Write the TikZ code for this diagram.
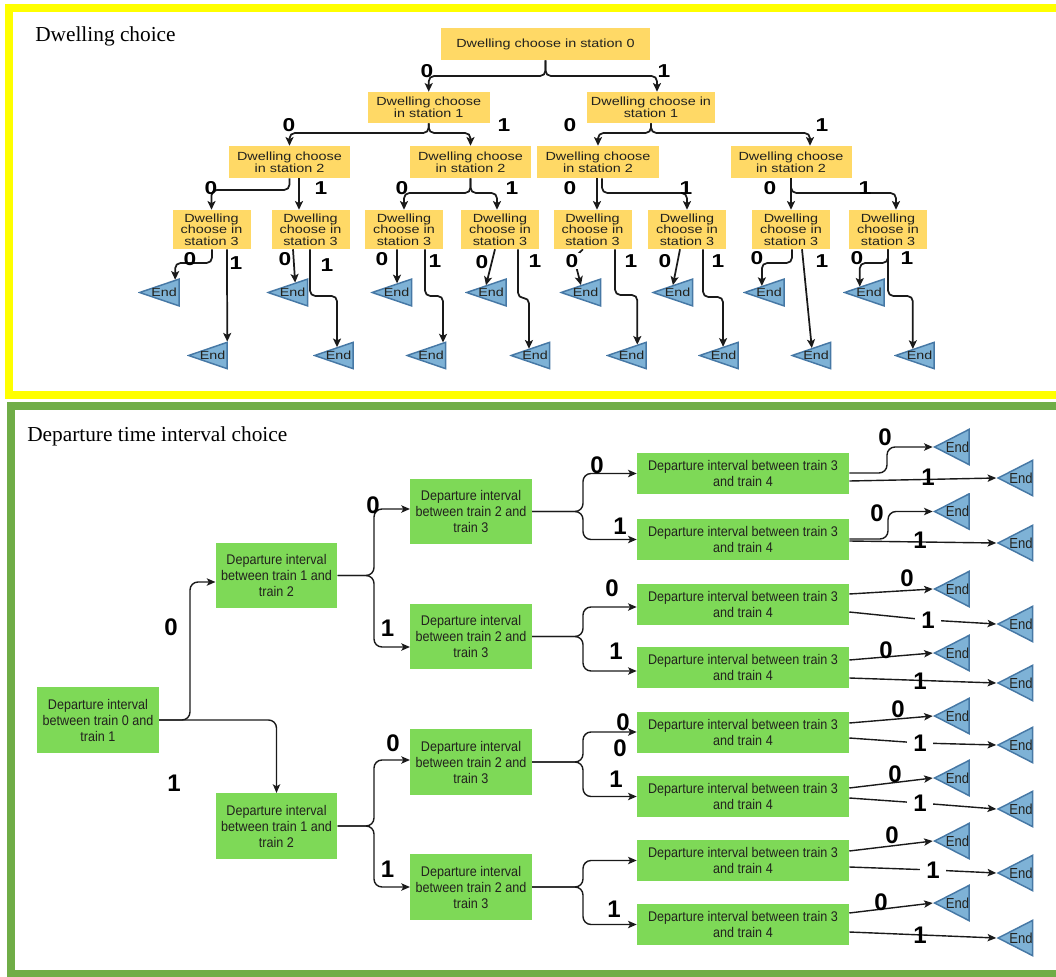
\documentclass[tikz,border=0pt]{standalone}
\usepackage{fontspec}
\setmainfont{Liberation Serif}
\newfontfamily\topsf[FakeStretch=1.22]{Liberation Sans}
\newfontfamily\botsf[FakeStretch=0.9]{Liberation Sans}
\newfontfamily\lblsf{Liberation Sans}
\usetikzlibrary{arrows.meta,calc}
\pgfdeclarelayer{edges}
\pgfsetlayers{edges,main}
\newdimen\pxu \pxu=0.75pt

\definecolor{frameyellow}{RGB}{255,255,0}
\definecolor{framegreen}{RGB}{112,173,71}
\definecolor{dwellfill}{RGB}{255,217,102}
\definecolor{depfill}{RGB}{126,217,87}
\definecolor{endfill}{RGB}{126,178,214}
\definecolor{endline}{RGB}{70,120,165}
\definecolor{inktext}{RGB}{34,34,30}
\definecolor{wire}{RGB}{26,26,26}

\tikzset{
  dwell/.style={rectangle, fill=dwellfill, inner sep=0pt, align=center, text=inktext,
    font=\topsf\fontsize{8.85pt}{8.7pt}\selectfont},
  dwellsm/.style={dwell, minimum width=78\pxu, minimum height=39\pxu,
    font=\topsf\fontsize{8.85pt}{8.5pt}\selectfont},
  dep/.style={rectangle, fill=depfill, inner sep=0pt, align=center, text=inktext,
    font=\botsf\fontsize{10.5pt}{12pt}\selectfont},
  depmid/.style={dep, minimum width=121.5\pxu, minimum height=65.5\pxu},
  deplong/.style={dep, minimum width=212\pxu, minimum height=41\pxu},
  endtri/.style={rectangle, inner sep=0pt, text=inktext,
    path picture={\path[fill=endfill, draw=endline, line width=1.1pt, line join=miter]
      ([xshift=1.2pt]path picture bounding box.west) --
      ([xshift=-0.6pt,yshift=-0.6pt]path picture bounding box.north east) --
      ([xshift=-0.6pt,yshift=0.6pt]path picture bounding box.south east) -- cycle;}},
  endtop/.style={endtri, minimum width=42\pxu, minimum height=28.5\pxu,
    font=\topsf\fontsize{8.8pt}{9pt}\selectfont},
  endbot/.style={endtri, minimum width=37\pxu, minimum height=37\pxu,
    font=\botsf\fontsize{10.9pt}{12pt}\selectfont},
  toplbl/.style={inner sep=0pt, text=black, font=\topsf\bfseries\fontsize{14pt}{14pt}\selectfont},
  botlbl/.style={inner sep=0pt, text=black, font=\lblsf\bfseries\fontsize{18pt}{18pt}\selectfont},
  gap/.style={fill=white, inner xsep=6\pxu, inner ysep=1pt},
  topwire/.style={draw=wire, line width=1.3pt, rounded corners=4pt,
    -{Stealth[length=6.5pt,width=6pt,inset=1.5pt]}},
  botwire/.style={draw=wire, line width=1.05pt, rounded corners=6pt,
    -{Stealth[length=6.5pt,width=5.5pt,inset=1.5pt]}},
  heading/.style={inner sep=0pt, anchor=base west, font=\fontsize{16pt}{18pt}\selectfont},
}

\begin{document}
\begin{tikzpicture}[x=0.75pt, y=-0.75pt]
\useasboundingbox (0,0) rectangle (1056,977);

% frames of the two panels (their right sides run past the page edge)
\draw[frameyellow, line width=8\pxu] (1075,8) -- (9,8) -- (9,395) -- (1075,395);
\draw[framegreen, line width=8\pxu] (1075,405.5) -- (11,405.5) -- (11,973.5) -- (1075,973.5);

\node[heading] (ttlA) at (35,42) {Dwelling choice};
\node[heading] (ttlB) at (27,441) {Departure time interval choice};

% ---------------- dwelling tree ----------------
\node[dwell, minimum width=209\pxu, minimum height=32\pxu] (d0) at (545.5,44) {Dwelling choose in station 0};
\node[dwell, minimum width=122\pxu, minimum height=31\pxu] (d1a) at (428.7,107.5) {Dwelling choose\\in station 1};
\node[dwell, minimum width=128\pxu, minimum height=31\pxu] (d1b) at (651,107.5) {Dwelling choose in\\station 1};
\node[dwell, minimum width=121\pxu, minimum height=32\pxu] (d2a) at (289.5,162) {Dwelling choose\\in station 2};
\node[dwell, minimum width=121\pxu, minimum height=32\pxu] (d2b) at (470.5,162) {Dwelling choose\\in station 2};
\node[dwell, minimum width=122\pxu, minimum height=32\pxu] (d2c) at (598,162) {Dwelling choose\\in station 2};
\node[dwell, minimum width=121\pxu, minimum height=32\pxu] (d2d) at (791,162) {Dwelling choose\\in station 2};

\foreach \n/\x in {1/211.5, 2/310.5, 3/404, 4/500, 5/592.5, 6/687, 7/791, 8/888}
  \node[dwellsm] (t3\n) at (\x,229.5) {Dwelling\\choose in\\station 3};

\foreach \n/\x in {1/159, 2/287.5, 3/391.5, 4/486, 5/580.5, 6/672.5, 7/764, 8/864}
  \node[endtop] (e0\n) at (\x,292.5) {\hspace*{10\pxu}End};
\foreach \n/\x in {1/207.5, 2/333.5, 3/426, 4/530, 5/626.5, 6/718.5, 7/811, 8/914.5}
  \node[endtop, minimum width=41\pxu, minimum height=28\pxu] (e1\n) at (\x,355.5) {\hspace*{10\pxu}End};

% branch labels of the dwelling tree
\node[toplbl] (ta0) at (427,71) {0};
\node[toplbl] (ta1) at (664,71) {1};
\node[toplbl] (tb0) at (289,125) {0};
\node[toplbl] (tb1) at (504,125) {1};
\node[toplbl] (tb2) at (570,125) {0};
\node[toplbl] (tb3) at (822,125) {1};
\foreach \n/\x/\t in {1/211/0, 2/321/1, 3/402/0, 4/512/1, 5/570/0, 6/686/1, 7/770/0, 8/865/1}
  \node[toplbl] (tc\n) at (\x,188) {\t};
\node[toplbl] (td10) at (190,259) {0};
\node[toplbl] (td11) at (236,263) {1};
\node[toplbl] (td20) at (285,259) {0};
\node[toplbl] (td21) at (327,265) {1};
\node[toplbl] (td30) at (382,259) {0};
\node[toplbl] (td31) at (435,261) {1};
\node[toplbl] (td40) at (482,262) {0};
\node[toplbl] (td41) at (535,261) {1};
\node[toplbl, gap, inner xsep=1pt] (td50) at (572,261) {0};
\node[toplbl] (td51) at (631,261) {1};
\node[toplbl] (td60) at (665,261) {0};
\node[toplbl] (td61) at (718,261) {1};
\node[toplbl] (td70) at (757,258) {0};
\node[toplbl] (td71) at (822,261) {1};
\node[toplbl] (td80) at (857,258) {0};
\node[toplbl] (td81) at (907,258) {1};

% ---------------- departure interval tree ----------------
\node[depmid] (r0) at (98,720) {Departure interval\\between train 0 and\\train 1};
\node[depmid] (r1a) at (276.5,575.5) {Departure interval\\between train 1 and\\train 2};
\node[depmid] (r1b) at (276.5,826) {Departure interval\\between train 1 and\\train 2};
\foreach \n/\y in {a/511.5, b/636.5, c/762, d/887}
  \node[depmid] (r2\n) at (471,\y) {Departure interval\\between train 2 and\\train 3};
\foreach \n/\y in {a/473.5, b/539.5, c/604.5, d/667.5, e/732, f/796.5, g/860.5, h/924.5}
  \node[deplong] (r3\n) at (743,\y) {Departure interval between train 3\\and train 4};
\foreach \n/\y in {1/447, 2/511.5, 3/589, 4/653, 5/716, 6/778, 7/841, 8/903}
  \node[endbot] (ea\n) at (951.5,\y) {\hspace*{12\pxu}End};
\foreach \n/\y in {1/478, 2/543, 3/624, 4/683, 5/745, 6/809, 7/873, 8/938}
  \node[endbot] (eb\n) at (1015,\y) {\hspace*{12\pxu}End};

% branch labels of the departure tree
\node[botlbl] (ba0) at (171,627) {0};
\node[botlbl] (ba1) at (174,783) {1};
\node[botlbl] (bb0) at (373,505) {0};
\node[botlbl] (bb1) at (387.5,628) {1};
\node[botlbl] (bb2) at (393,743) {0};
\node[botlbl] (bb3) at (387.5,869) {1};
\node[botlbl] (bc0) at (597,465) {0};
\node[botlbl] (bc1) at (620,526) {1};
\node[botlbl] (bc2) at (612,588) {0};
\node[botlbl] (bc3) at (616,651) {1};
\node[botlbl] (bc4) at (623,722) {0};
\node[botlbl] (bc5) at (620,748) {0};
\node[botlbl] (bc6) at (616,779) {1};
\node[botlbl] (bc7) at (614,909) {1};
\node[botlbl] (bd10) at (885,437) {0};
\node[botlbl] (bd11) at (928,477) {1};
\node[botlbl] (bd20) at (877,513) {0};
\node[botlbl] (bd21) at (920,540) {1};
\node[botlbl] (bd30) at (907,578) {0};
\node[botlbl, gap] (bd31) at (928,620) {1};
\node[botlbl] (bd40) at (886,650) {0};
\node[botlbl] (bd41) at (920,681) {1};
\node[botlbl] (bd50) at (898,709) {0};
\node[botlbl, gap] (bd51) at (920,743) {1};
\node[botlbl] (bd60) at (895,774) {0};
\node[botlbl, gap] (bd61) at (920,803) {1};
\node[botlbl] (bd70) at (892,835) {0};
\node[botlbl, gap] (bd71) at (933,870) {1};
\node[botlbl] (bd80) at (881,902) {0};
\node[botlbl] (bd81) at (920,935) {1};

% ---------------- connectors ----------------
\begin{pgfonlayer}{edges}
% dwelling tree, levels 0 to 2
\draw[topwire] (d0.south) -- (d0.south |- 0,76) -| (d1a.north);
\draw[topwire] (d0.south) -- (d0.south |- 0,76) -| (657,0 |- d1b.north);
\draw[topwire] (d1a.south) -- (d1a.south |- 0,133) -| (d2a.north);
\draw[topwire] (d1a.south) -- (d1a.south |- 0,133) -| (d2b.north);
\draw[topwire] (d1b.south) -- (d1b.south |- 0,133) -| (d2c.north);
\draw[topwire] (d1b.south) -- (d1b.south |- 0,133) -| (810,0 |- d2d.north);
% level 2 to 3
\draw[topwire] (d2a.south) -- (289.5,190) -| (t31.north);
\draw[topwire] (299,0 |- d2a.south) -- (299,0 |- t32.north);
\draw[topwire] (d2b.south) -- (470.5,193) -| (t33.north);
\draw[topwire] (d2b.south) -- (470.5,193) -| (497,0 |- t34.north);
\draw[topwire] (597,0 |- d2c.south) -- (597,0 |- t35.north);
\draw[topwire] (602,0 |- d2c.south) -- (602,193) -| (t36.north);
\draw[topwire] (d2d.south) -- (t37.north);
\draw[topwire] (d2d.south) -- (791,193) -| (896,0 |- t38.north);
% level 3 to the ends
\draw[topwire] (212,0 |- t31.south) -- (212,263) -| ($(e01.west)!.88!(e01.north east)$);
\draw[topwire] (227,0 |- t31.south) -- ($(e11.west)!.975!(e11.north east)$);
\draw[topwire] (293,0 |- t32.south) -- ($(e02.west)!.68!(e02.north east)$);
\draw[topwire] (310,0 |- t32.south) -- (310,296) -| ($(e12.west)!.585!(e12.north east)$);
\draw[topwire] (397,0 |- t33.south) -- ($(e03.west)!.63!(e03.north east)$);
\draw[topwire] (425,0 |- t33.south) -- (425,296) -| ($(e13.west)!.91!(e13.north east)$);
\draw[topwire] (495,0 |- t34.south) -- ($(e04.west)!.5!(e04.north east)$);
\draw[topwire] (518,0 |- t34.south) -- (518,298) -| ($(e14.west)!.475!(e14.north east)$);
\draw[topwire] (583,0 |- t35.south) -- (574,258) -- ($(e05.west)!.51!(e05.north east)$);
\draw[topwire] (615,0 |- t35.south) -- (615,295) -| ($(e15.west)!.76!(e15.north east)$);
\draw[topwire] (680,0 |- t36.south) -- ($(e06.west)!.51!(e06.north east)$);
\draw[topwire] (703,0 |- t36.south) -- (703,297) -| ($(e16.west)!.61!(e16.north east)$);
\draw[topwire] (792,0 |- t37.south) -- (792,263) -| ($(e07.west)!.45!(e07.north east)$);
\draw[topwire] (802,0 |- t37.south) -- ($(e17.west)!.52!(e17.north east)$);
\draw[topwire] (888,0 |- t38.south) -- (888,263) -| ($(e08.west)!.40!(e08.north east)$);
\draw[topwire] (888,0 |- t38.south) -- (888,296) -| ($(e18.west)!.46!(e18.north east)$);

% departure tree, levels 0 to 2
\draw[botwire] (r0.east) -- (190,0 |- r0.east) |- (r1a.west |- 0,582);
\draw[botwire] (r0.east) -| (r1b.north);
\draw[botwire] (r1a.east) -- (374,0 |- r1a.east) |- (r2a.west |- 0,509);
\draw[botwire] (r1a.east) -- (374,0 |- r1a.east) |- (r2b.west |- 0,647);
\draw[botwire] (r1b.east) -- (374,0 |- r1b.east) |- (r2c.west |- 0,760);
\draw[botwire] (r1b.east) -- (374,0 |- r1b.east) |- (r2d.west);
% level 2 to 3
\draw[botwire] (r2a.east) -- (583,0 |- r2a.east) |- (r3a.west);
\draw[botwire] (r2a.east) -- (583,0 |- r2a.east) |- (r3b.west);
\draw[botwire] (r2b.east) -- (583,0 |- r2b.east) |- (r3c.west |- 0,607);
\draw[botwire] (r2b.east) -- (583,0 |- r2b.east) |- (r3d.west |- 0,671);
\draw[botwire] (r2c.east) -- (583,0 |- r2c.east) |- (r3e.west);
\draw[botwire] (r2c.east) -- (583,0 |- r2c.east) |- (r3f.west);
\draw[botwire] (r2d.east) -- (583,0 |- r2d.east) |- (r3g.west);
\draw[botwire] (r2d.east) -- (583,0 |- r2d.east) |- (r3h.west);
% level 3 to the ends
\draw[botwire] (r3a.east |- 0,473) -- (887,473) |- (ea1.west);
\draw[botwire] (r3a.east |- 0,481) -- (eb1.west);
\draw[botwire] (r3b.east |- 0,539) -- (888,539) |- (ea2.west);
\draw[botwire] (r3b.east |- 0,541) -- (eb2.west);
\draw[botwire] (r3c.east |- 0,594) -- (ea3.west);
\draw[botwire] (r3c.east |- 0,612) -- (bd31.center) -- (eb3.west);
\draw[botwire] (r3d.east |- 0,660) -- (ea4.west);
\draw[botwire] (r3d.east |- 0,678) -- (eb4.west);
\draw[botwire] (r3e.east |- 0,723) -- (ea5.west);
\draw[botwire] (r3e.east |- 0,738) -- (bd51.center) -- (eb5.west);
\draw[botwire] (r3f.east |- 0,788) -- (ea6.west);
\draw[botwire] (r3f.east |- 0,798) -- (bd61.center) -- (eb6.west);
\draw[botwire] (r3g.east |- 0,851) -- (ea7.west);
\draw[botwire] (r3g.east |- 0,867) -- (bd71.center) -- (eb7.west);
\draw[botwire] (r3h.east |- 0,913) -- (ea8.west);
\draw[botwire] (r3h.east |- 0,932) -- (eb8.west);
\end{pgfonlayer}
\end{tikzpicture}
\end{document}
